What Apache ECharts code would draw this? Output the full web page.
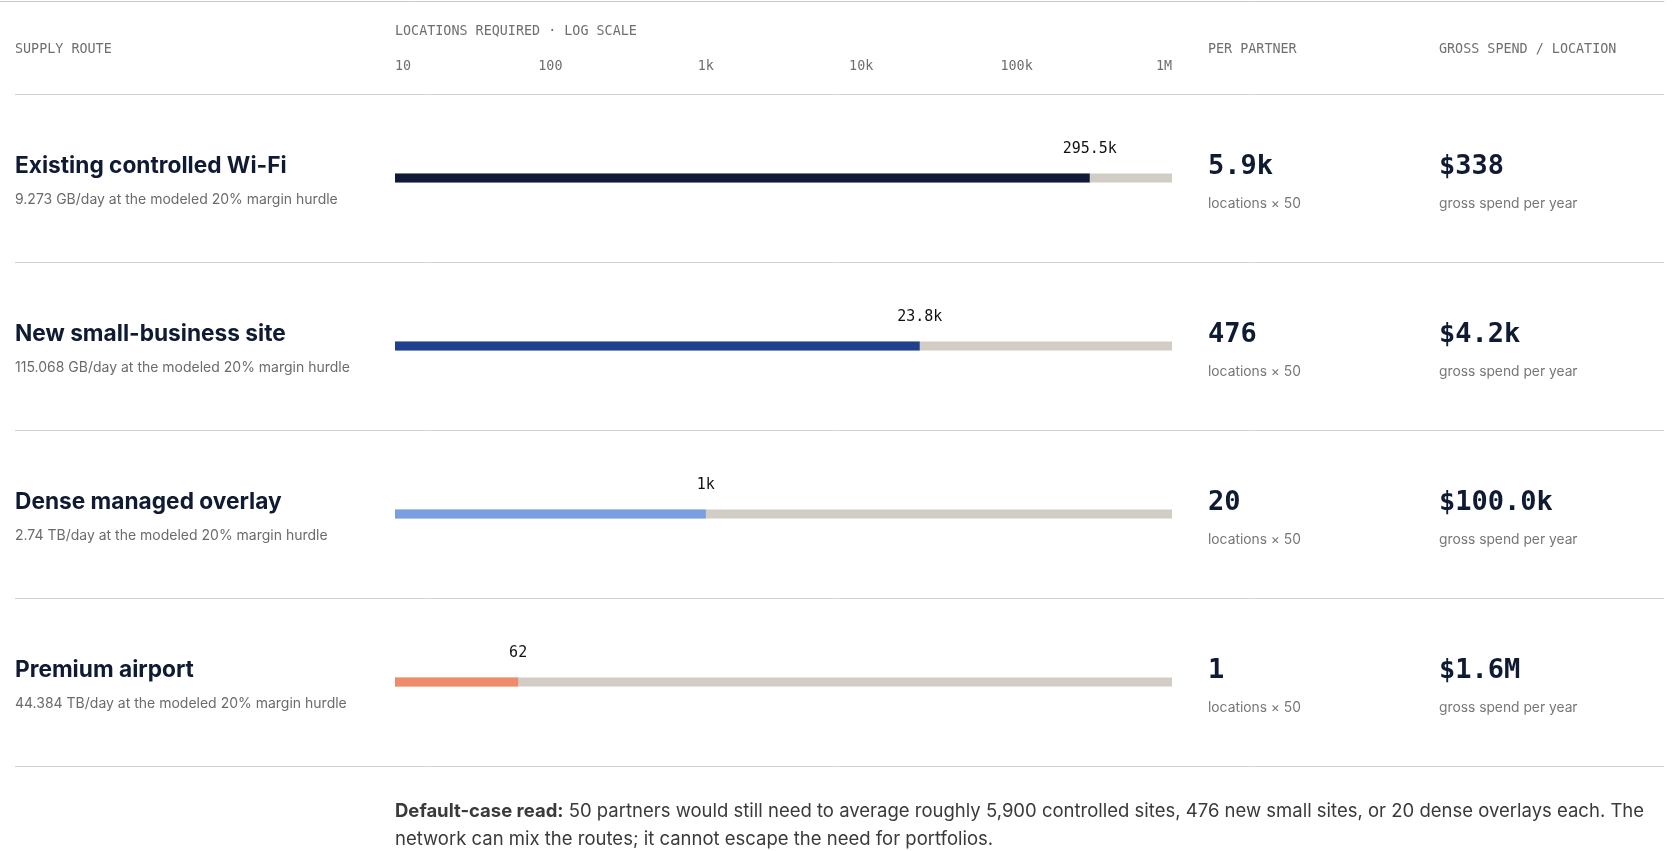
<!DOCTYPE html>
<html>
<head>
<meta charset="utf-8">
<script src="https://cdn.jsdelivr.net/npm/echarts@6/dist/echarts.min.js"></script>
<style>
  html, body { margin: 0; padding: 0; background: #fff; }
  #chart { width: 1680px; height: 851px; }
</style>
</head>
<body>
<div id="chart"></div>
<script>
// rows of the table
const routes = ['Existing controlled Wi-Fi', 'New small-business site', 'Dense managed overlay', 'Premium airport'];
const hurdles = [
  '9.273 GB/day at the modeled 20% margin hurdle',
  '115.068 GB/day at the modeled 20% margin hurdle',
  '2.74 TB/day at the modeled 20% margin hurdle',
  '44.384 TB/day at the modeled 20% margin hurdle',
];
const locationsRequired = [295500, 23800, 1000, 62];
const locationLabels = ['295.5k', '23.8k', '1k', '62'];
const perPartner = ['5.9k', '476', '20', '1'];
const spendPerLocation = ['$338', '$4.2k', '$100.0k', '$1.6M'];
const barColors = ['#0f1a38', '#1f418d', '#7a9fe0', '#ef8a6b'];

// log axis
const axisTicks = [10, 100, 1000, 10000, 100000, 1000000];
const tickLabels = ['10', '100', '1k', '10k', '100k', '1M'];

const footerText = '{b|Default-case read:} 50 partners would still need to average roughly 5,900 controlled sites, 476 new small sites, or 20 dense overlays each. The\n' +
  'network can mix the routes; it cannot escape the need for portfolios.';

const SANS = 'Inter, "Noto Sans", sans-serif';
const MONO = '"DejaVu Sans Mono", "Liberation Mono", monospace';
const INK = '#0f1a33';
const headStyle = { fontFamily: MONO, fontSize: 13.4, fontWeight: 'normal', color: '#6f6f6f' };

const myChart = echarts.init(document.getElementById('chart'));

const option = {
  animation: false,
  backgroundColor: '#fff',
  title: [
    { text: 'SUPPLY ROUTE', left: 15, top: 43, padding: 0, textStyle: headStyle },
    { text: 'LOCATIONS REQUIRED · LOG SCALE', left: 395, top: 25, padding: 0, textStyle: headStyle },
    { text: 'PER PARTNER', left: 1208, top: 43, padding: 0, textStyle: headStyle },
    { text: 'GROSS SPEND / LOCATION', left: 1439, top: 43, padding: 0, textStyle: headStyle },
    {
      text: footerText, left: 395, top: 797, padding: 0,
      textStyle: {
        fontFamily: SANS, fontSize: 18.5, fontWeight: 'normal', color: '#3a3a3a', lineHeight: 28,
        rich: { b: { fontFamily: SANS, fontSize: 18.5, fontWeight: 'bold', color: '#3a3a3a', lineHeight: 28 } },
      },
    },
  ],
  grid: [
    { left: 395, right: 508, top: 94, bottom: 85 },   // bars
    { left: 15, right: 16, top: 94, bottom: 85 },     // row rules
    { left: 0, right: 16, top: 1, height: 93 },       // top rule
  ],
  xAxis: [
    {
      gridIndex: 0,
      type: 'log',
      logBase: 10,
      min: axisTicks[0],
      max: axisTicks[axisTicks.length - 1],
      startValue: axisTicks[0],
      position: 'top',
      axisLine: { show: false },
      axisTick: { show: false },
      splitLine: { show: false },
      axisLabel: {
        margin: 21,
        fontFamily: MONO,
        fontSize: 13.4,
        color: '#6f6f6f',
        alignMinLabel: 'left',
        alignMaxLabel: 'right',
        formatter: (v) => {
          const i = axisTicks.findIndex(t => Math.abs(t - v) / t < 1e-6);
          return i >= 0 ? tickLabels[i] : '';
        },
      },
    },
    { gridIndex: 1, type: 'value', show: false },
    {
      gridIndex: 2, type: 'value', position: 'top',
      axisLine: { show: true, onZero: false, lineStyle: { color: '#c9c9c9', width: 1 } },
      axisTick: { show: false }, axisLabel: { show: false }, splitLine: { show: false },
    },
  ],
  yAxis: [
    {
      gridIndex: 0,
      type: 'category',
      inverse: true,
      data: routes,
      axisLine: { show: false },
      axisTick: { show: false },
      splitLine: { show: false },
      axisLabel: {
        margin: 380,
        align: 'left',
        padding: [10, 0, 0, 0],
        formatter: (v, i) => `{t|${v}}\n{s|${hurdles[i]}}`,
        rich: {
          t: { fontFamily: SANS, fontSize: 22.7, fontWeight: 'bold', color: INK, lineHeight: 33 },
          s: { fontFamily: SANS, fontSize: 14, color: '#6b6b6b', lineHeight: 33 },
        },
      },
    },
    {
      gridIndex: 0,
      type: 'category',
      inverse: true,
      position: 'right',
      data: perPartner,
      axisLine: { show: false },
      axisTick: { show: false },
      axisLabel: {
        margin: 36,
        align: 'left',
        padding: [16, 0, 0, 0],
        formatter: (v) => `{v|${v}}\n{u|locations × 50}`,
        rich: {
          v: { fontFamily: MONO, fontSize: 27, fontWeight: 'bold', color: INK, lineHeight: 36 },
          u: { fontFamily: SANS, fontSize: 13.8, color: '#777', lineHeight: 38 },
        },
      },
    },
    {
      gridIndex: 0,
      type: 'category',
      inverse: true,
      position: 'right',
      data: spendPerLocation,
      axisLine: { show: false },
      axisTick: { show: false },
      axisLabel: {
        margin: 267,
        align: 'left',
        padding: [16, 0, 0, 0],
        formatter: (v) => `{v|${v}}\n{u|gross spend per year}`,
        rich: {
          v: { fontFamily: MONO, fontSize: 27, fontWeight: 'bold', color: INK, lineHeight: 36 },
          u: { fontFamily: SANS, fontSize: 13.8, color: '#777', lineHeight: 38 },
        },
      },
    },
    {
      gridIndex: 1,
      type: 'category',
      data: routes,
      axisLine: { show: false },
      axisTick: { show: false },
      axisLabel: { show: false },
      splitLine: { show: true, lineStyle: { color: '#d3d3d3', width: 1 } },
    },
    { gridIndex: 2, type: 'value', show: false },
  ],
  series: [
    {
      name: 'track',
      type: 'bar',
      xAxisIndex: 0,
      yAxisIndex: 0,
      silent: true,
      barWidth: 9,
      barGap: '-100%',
      z: 1,
      itemStyle: { color: '#d1cdc5' },
      data: routes.map(() => axisTicks[axisTicks.length - 1]),
    },
    {
      name: 'locations',
      type: 'bar',
      xAxisIndex: 0,
      yAxisIndex: 0,
      barWidth: 9,
      barGap: '-100%',
      z: 2,
      data: locationsRequired.map((v, i) => ({ value: v, itemStyle: { color: barColors[i] } })),
      label: {
        show: true,
        position: ['100%', -17],
        align: 'center',
        verticalAlign: 'bottom',
        fontFamily: MONO,
        fontSize: 15,
        color: '#111',
        formatter: (p) => locationLabels[p.dataIndex],
      },
    },
  ],
};

myChart.setOption(option);
</script>
</body>
</html>
